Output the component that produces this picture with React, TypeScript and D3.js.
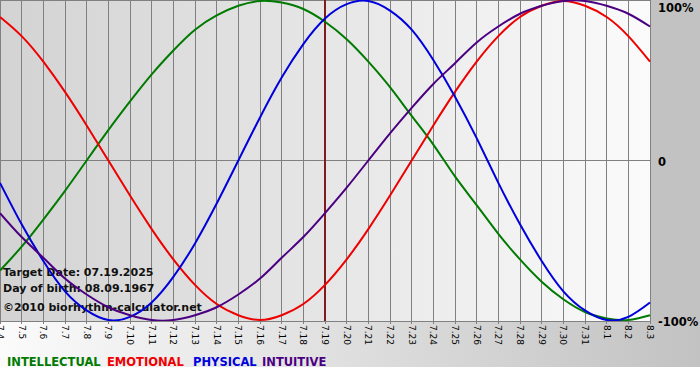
import React from 'react';
import * as d3 from 'd3';

const dateLabels = [
  '7.4', '7.5', '7.6', '7.7', '7.8', '7.9', '7.10', '7.11', '7.12', '7.13', '7.14',
  '7.15', '7.16', '7.17', '7.18', '7.19', '7.20', '7.21', '7.22', '7.23', '7.24',
  '7.25', '7.26', '7.27', '7.28', '7.29', '7.30', '7.31', '8.1', '8.2', '8.3',
];

const intellectual = [
  -0.69, -0.54, -0.37, -0.19, 0, 0.19, 0.37, 0.54, 0.69, 0.82, 0.91, 0.97, 1.0, 0.99, 0.95,
  0.87, 0.76, 0.62, 0.46, 0.28, 0.1, -0.1, -0.28, -0.46, -0.62, -0.76, -0.87, -0.95, -0.99,
  -1.0, -0.97,
];
const emotional = [
  0.9, 0.78, 0.62, 0.43, 0.22, 0, -0.22, -0.43, -0.62, -0.78, -0.9, -0.97, -1.0, -0.97, -0.9,
  -0.78, -0.62, -0.43, -0.22, 0, 0.22, 0.43, 0.62, 0.78, 0.9, 0.97, 1.0, 0.97, 0.9, 0.78, 0.62,
];
const physical = [
  -0.14, -0.4, -0.63, -0.82, -0.94, -1.0, -0.98, -0.89, -0.73, -0.52, -0.27, 0, 0.27, 0.52,
  0.73, 0.89, 0.98, 1.0, 0.94, 0.82, 0.63, 0.4, 0.14, -0.14, -0.4, -0.63, -0.82, -0.94, -1.0,
  -0.98, -0.89,
];
const intuitive = [
  -0.33, -0.48, -0.61, -0.74, -0.84, -0.92, -0.97, -1.0, -1.0, -0.97, -0.92, -0.84, -0.74,
  -0.61, -0.48, -0.33, -0.17, 0, 0.17, 0.33, 0.48, 0.61, 0.74, 0.84, 0.92, 0.97, 1.0, 1.0,
  0.97, 0.92, 0.84,
];

const seriesNames = ['INTELLECTUAL', 'EMOTIONAL', 'PHYSICAL', 'INTUITIVE'];
const seriesColors = ['#007a00', '#ee0000', '#0000dd', '#4b0082'];
const seriesData = [intellectual, emotional, physical, intuitive];
const yTickLabels = ['100%', '0', '-100%'];
const targetLabel = '7.19';
const infoLines = ['Target Date: 07.19.2025', 'Day of birth: 08.09.1967', '\u00a92010 biorhythm-calculator.net'];

const W = 700;
const H = 380;
const plotW = 651;
const plotH = 321;
const chartH = 367;

export default function App() {
  const x = d3.scalePoint<string>().domain(dateLabels).range([0, 650]);
  const y = d3.scaleLinear().domain([-1, 1]).range([320, 1]);
  const line = d3
    .line<number>()
    .x((_, i) => x(dateLabels[i]) as number)
    .y((d) => y(d))
    .curve(d3.curveNatural);

  const font = 'DejaVu Sans, Verdana, sans-serif';
  const legendX = [7, 107, 193, 262];
  const targetX = x(targetLabel) as number;

  return (
    <svg
      width={W}
      height={H}
      style={{ position: 'absolute', left: 0, top: 0, background: '#ffffff' }}
    >
      <defs>
        <linearGradient id="plotBg" x1="0" x2="1" y1="0" y2="0">
          <stop offset="0%" stopColor="#d3d3d3" />
          <stop offset="50%" stopColor="#e6e6e6" />
          <stop offset="100%" stopColor="#fbfbfb" />
        </linearGradient>
        <linearGradient id="bottomBg" x1="0" x2="1" y1="0" y2="0">
          <stop offset="0%" stopColor="#fbfbfb" />
          <stop offset="100%" stopColor="#c2c2c2" />
        </linearGradient>
        <clipPath id="plotClip">
          <rect x={0} y={0} width={plotW} height={plotH} />
        </clipPath>
      </defs>

      <rect x={0} y={plotH} width={W} height={chartH - plotH} fill="url(#bottomBg)" />
      <rect x={plotW} y={0} width={W - plotW} height={plotH} fill="#c2c2c2" />
      <rect x={0} y={0} width={plotW} height={plotH} fill="url(#plotBg)" />

      {dateLabels.map((d) => (
        <line
          key={'g' + d}
          x1={x(d)}
          x2={x(d)}
          y1={0}
          y2={plotH + 3}
          stroke="#808080"
          strokeWidth={1}
          shapeRendering="crispEdges"
        />
      ))}
      <line x1={0} x2={plotW} y1={0.5} y2={0.5} stroke="#808080" strokeWidth={1} />
      <line x1={0} x2={plotW} y1={y(0)} y2={y(0)} stroke="#808080" strokeWidth={1} shapeRendering="crispEdges" />
      <line x1={0} x2={plotW} y1={plotH + 0.5} y2={plotH + 0.5} stroke="#808080" strokeWidth={1} />

      <line x1={targetX} x2={targetX} y1={0} y2={plotH} stroke="#801c1c" strokeWidth={2} />

      {infoLines.map((t, i) => (
        <text
          key={t}
          x={3}
          y={[276, 292, 311][i]}
          fontFamily={font}
          fontWeight="bold"
          fontSize={11}
          fill="#111"
        >
          {t}
        </text>
      ))}

      <g clipPath="url(#plotClip)">
        {seriesData.map((s, i) => (
          <path key={seriesNames[i]} d={line(s) || ''} fill="none" stroke={seriesColors[i]} strokeWidth={2} />
        ))}
      </g>

      {dateLabels.map((d) => (
        <text
          key={'t' + d}
          transform={`translate(${x(d)},${plotH + 4}) rotate(90)`}
          dy="0.35em"
          fontFamily={font}
          fontSize={9}
          fill="#000"
        >
          {d}
        </text>
      ))}

      {yTickLabels.map((t, i) => (
        <text
          key={t}
          x={658}
          y={[12, 166, 326][i]}
          fontFamily={font}
          fontWeight="bold"
          fontSize={11.5}
          fill="#000"
        >
          {t}
        </text>
      ))}

      {seriesNames.map((n, i) => (
        <text
          key={n}
          x={legendX[i]}
          y={366}
          fontFamily={font}
          fontWeight="bold"
          fontSize={11.5}
          fill={seriesColors[i]}
        >
          {n}
        </text>
      ))}
    </svg>
  );
}
